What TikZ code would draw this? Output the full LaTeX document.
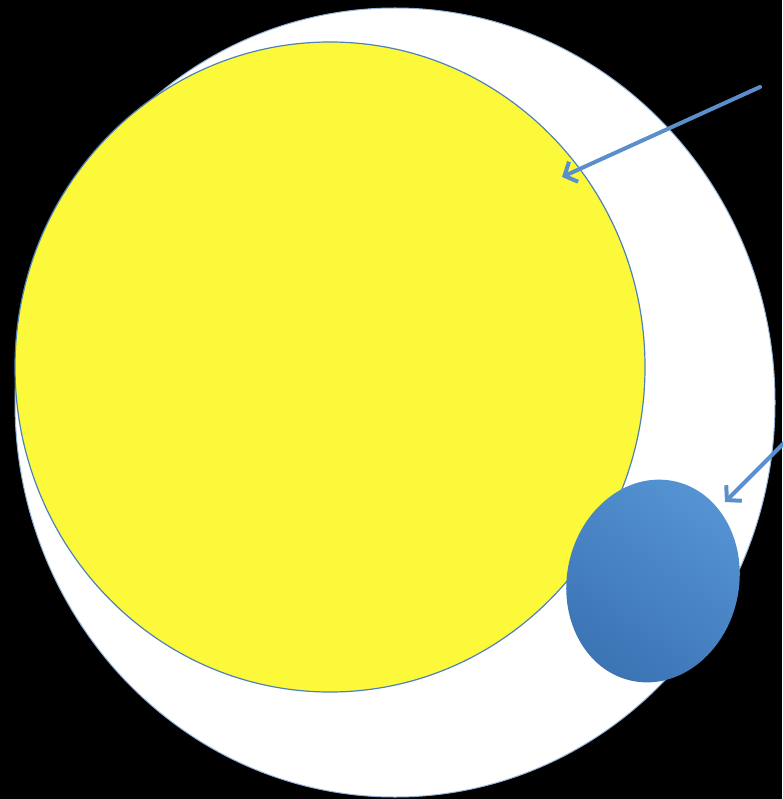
\documentclass[tikz,border=0pt]{standalone}
\usetikzlibrary{arrows.meta,shapes.geometric}
\definecolor{outl}{HTML}{4F81BD}
\definecolor{arrowc}{HTML}{5A8FCB}
\definecolor{sunyel}{HTML}{FCF93A}
\definecolor{bluelt}{HTML}{5594D4}
\definecolor{bluedk}{HTML}{3C74B4}
\tikzset{
  pointer/.style={draw=arrowc, line width=4pt, line cap=round,
    -{Straight Barb[length=10pt,width=22pt,line width=4pt]}},
}
\begin{document}
\begin{tikzpicture}[x=1pt,y=-1pt]
\fill[black] (0,0) rectangle (782,799);
\useasboundingbox (0,0) rectangle (782,799);
% white outer ellipse
\node (outer) [ellipse, draw=outl!60, line width=1pt, fill=white,
  minimum width=760pt, minimum height=789pt, inner sep=0pt] at (395,402.5) {};
% yellow circle
\node (sun) [ellipse, draw=outl, line width=1.2pt, fill=sunyel,
  minimum width=630pt, minimum height=650pt, inner sep=0pt] at (330,367) {};
% blue ellipse
\node (blob) [ellipse, rotate=-12, top color=bluelt, bottom color=bluedk, shading angle=-35,
  minimum width=172pt, minimum height=204pt, inner sep=0pt] at (653,581) {};
\coordinate (a1s) at (760,87);
\coordinate (a1e) at (562,177);
\coordinate (a2s) at (786,441);
\coordinate (a2e) at (725,502);
\draw[pointer] (a1s) -- (a1e);
\draw[pointer] (a2s) -- (a2e);
\end{tikzpicture}
\end{document}
